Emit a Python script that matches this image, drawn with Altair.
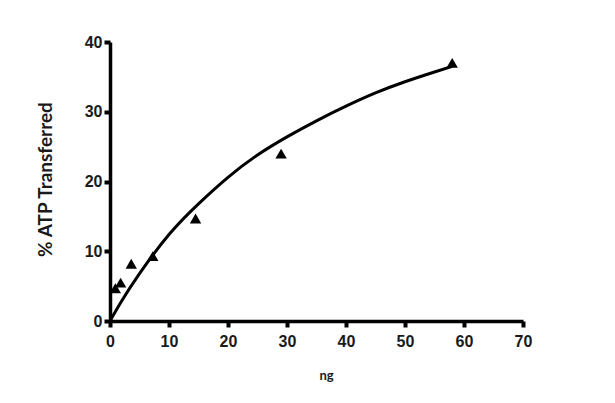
import altair as alt
import pandas as pd

# measured points (ng, % ATP transferred)
pt_x = [0.9, 1.8, 3.6, 7.25, 14.5, 29, 58]
pt_y = [4.7, 5.5, 8.2, 9.3, 14.7, 24.0, 37.0]

# fitted curve
fit_x = [0, 2, 5, 10, 15, 20, 25, 30, 35, 40, 45, 50, 55, 58]
fit_y = [0, 2.9, 6.8, 12.4, 16.8, 20.6, 23.8, 26.4, 28.7, 30.8, 32.7, 34.3, 35.7, 36.5]

x_ticks = [0, 10, 20, 30, 40, 50, 60, 70]
y_ticks = [0, 10, 20, 30, 40]

pts = pd.DataFrame({"x": pt_x, "y": pt_y})
fit = pd.DataFrame({"x": fit_x, "y": fit_y})

label_font = "Liberation Sans"
title_font = "Lato"

xscale = alt.Scale(domain=[0, 70], nice=False, zero=False)
yscale = alt.Scale(domain=[0, 40], nice=False, zero=False)

xaxis = alt.Axis(
    values=x_ticks, title="ng", grid=False,
    domainColor="black", domainWidth=3.5, tickColor="black", tickWidth=4, tickSize=6,
    labelFont=label_font, labelFontSize=16, labelFontWeight="bold", labelColor="#1a1a1a",
    labelPadding=6, labelFlush=False,
    titleFont=title_font, titleFontSize=13, titleFontWeight="bold", titleColor="#1a1a1a",
    titleX=216, titleY=54, titleBaseline="middle", titleAlign="center",
)
yaxis = alt.Axis(
    values=y_ticks, title="% ATP Transferred", grid=False,
    domainColor="black", domainWidth=3.5, tickColor="black", tickWidth=4, tickSize=6,
    labelFont=label_font, labelFontSize=16, labelFontWeight="bold", labelColor="#1a1a1a",
    labelPadding=2, labelFlush=False,
    titleFont=title_font, titleFontSize=19, titleFontWeight="bold", titleColor="#1a1a1a",
    titleX=-65, titleY=137, titleAngle=-90, titleBaseline="middle", titleAlign="center",
)

line = alt.Chart(fit).mark_line(color="black", strokeWidth=3, interpolate="natural").encode(
    x=alt.X("x:Q", scale=xscale, axis=xaxis),
    y=alt.Y("y:Q", scale=yscale, axis=yaxis),
)
points = alt.Chart(pts).mark_point(shape="triangle-up", filled=True, color="black", size=130, opacity=1).encode(
    x=alt.X("x:Q", scale=xscale),
    y=alt.Y("y:Q", scale=yscale),
)

chart = (line + points).properties(
    width=413, height=279,
    autosize="none",
    padding={"left": 102, "top": 34, "right": 84, "bottom": 82},
).configure(background="white").configure_view(strokeWidth=0, stroke="transparent")

chart.save("out.html", embed_options={"renderer": "svg", "actions": False})
